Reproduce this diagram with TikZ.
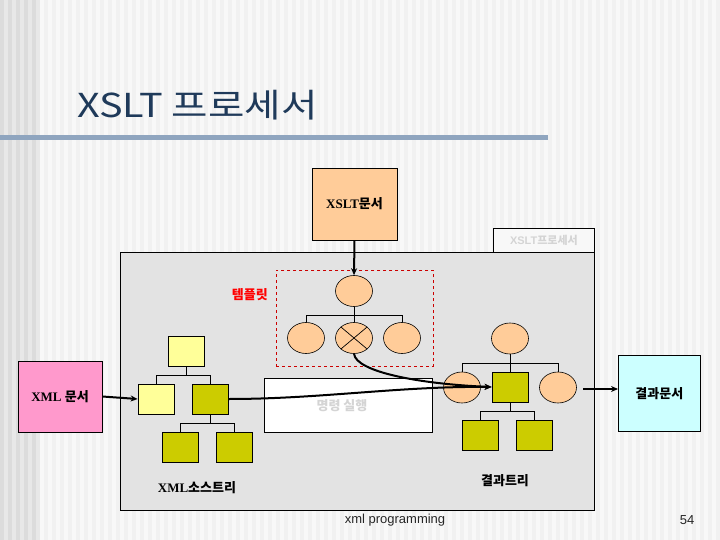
\documentclass[tikz,border=0pt]{standalone}
\usepackage{fontspec}
\setmainfont{Liberation Serif}
\setsansfont{Liberation Sans}
\newfontfamily\kr{Noto Sans CJK KR}
\usetikzlibrary{arrows.meta,shapes.geometric}
\definecolor{bgA}{HTML}{F1F1F1}
\definecolor{bgB}{HTML}{F8F8F8}
\definecolor{bgL}{HTML}{DCDCDC}
\definecolor{bgL2}{HTML}{E8E8E8}
\definecolor{titlec}{HTML}{1F3A5A}
\definecolor{barc}{HTML}{8FA5BF}
\definecolor{peach}{HTML}{FFCC99}
\definecolor{pale}{HTML}{FFFF99}
\definecolor{olive}{HTML}{CCCC00}
\definecolor{pinkc}{HTML}{FF99CC}
\definecolor{cyanc}{HTML}{CCFFFF}
\definecolor{panel}{HTML}{E3E3E3}
\definecolor{faint}{HTML}{D4D4D4}
\tikzset{
  sq/.style={draw=black,line width=0.8pt,minimum width=36pt,minimum height=30pt,inner sep=0pt},
  ov/.style={draw=black,line width=0.6pt,fill=peach,ellipse,minimum width=37pt,minimum height=31pt,inner sep=0pt},
  doc/.style={draw=black,line width=0.8pt,inner sep=0pt,font=\bfseries\fontsize{13}{15}\selectfont},
  link/.style={draw=black,line width=0.7pt},
  arr/.style={draw=black,line width=2pt,-{Stealth[length=7pt,width=6pt]}},
  lbl/.style={inner sep=0pt,font=\bfseries\fontsize{13}{15}\selectfont}
}
\begin{document}
\begin{tikzpicture}[x=1pt,y=-1pt]
\useasboundingbox (0,0) rectangle (720,540);
% background stripes
\fill[bgA] (0,0) rectangle (720,540);
\foreach \i in {0,...,89} { \fill[bgB] ({\i*8},0) rectangle ({\i*8+4},540); }
\foreach \i in {0,...,4} { \fill[bgL] ({\i*8},0) rectangle ({\i*8+4},540); \fill[bgL2] ({\i*8+4},0) rectangle ({\i*8+8},540); }
% title
\node[anchor=base west,inner sep=0pt,text=titlec,font=\kr\fontsize{33}{40}\selectfont,xscale=1.2,transform shape] (title) at (77,118) {XSLT 프로세서};
\fill[barc] (0,135) rectangle (548,140);
% processor label and panel
\node[draw=black,line width=0.8pt,fill=bgB,minimum width=101pt,minimum height=24pt,inner sep=0pt,anchor=north west,text=faint,font=\sffamily\bfseries\fontsize{11}{13}\selectfont] (plabel) at (493,228) {XSLT{\kr 프로세서}};
\node[draw=black,line width=0.8pt,fill=panel,minimum width=474pt,minimum height=258pt,inner sep=0pt,anchor=north west] (panelbox) at (120,252) {};
% XSLT document
\node[doc,fill=peach,minimum width=85pt,minimum height=72pt] (xsltdoc) at (354.5,204) {XSLT{\kr 문서}};
% template
\node[draw=red!80!black,dashed,line width=0.7pt,minimum width=157pt,minimum height=96pt,inner sep=0pt,anchor=north west] (tpl) at (276,270) {};
\node[lbl,text=red,font=\kr\bfseries\fontsize{13}{15}\selectfont,anchor=east] (tpllabel) at (268,295) {템플릿};
\node[ov] (e0) at (354,291) {};
\node[ov] (e1) at (306,338) {};
\node[ov] (e2) at (354,338) {};
\node[ov] (e3) at (402,338) {};
\draw[link] (e2.north west) -- (e2.south east) (e2.north east) -- (e2.south west);
\draw[link] (e0.south) -- (354,315) -| (e1.north);
\draw[link] (354,315) -- (e2.north);
\draw[link] (354,315) -| (e3.north);
\draw[arr] (xsltdoc.south) -- (e0.north);
% XML document
\node[doc,fill=pinkc,minimum width=84pt,minimum height=71pt] (xmldoc) at (60,396.5) {XML {\kr 문서}};
% source tree
\node[sq,fill=pale] (s0) at (186,351) {};
\node[sq,fill=pale] (s1) at (156,399) {};
\node[sq,fill=olive] (s2) at (210.5,399) {};
\node[sq,fill=olive] (s3) at (180,447) {};
\node[sq,fill=olive] (s4) at (234.5,447) {};
\draw[link] (s0.south) -- (186,375) -| (s1.north);
\draw[link] (186,375) -| (s2.north);
\draw[link] (s2.south) -- (210.5,423) -| (s3.north);
\draw[link] (210.5,423) -| (s4.north);
\draw[arr] (xmldoc.east) -- (s1.west);
\node[lbl] (srclabel) at (197,488) {XML{\kr 소스트리}};
% execution box
\node[draw=black,line width=0.8pt,fill=white,minimum width=168pt,minimum height=54pt,inner sep=0pt,anchor=north west] (exec) at (264,378) {};
\node[lbl,text=faint,font=\kr\bfseries\fontsize{13}{15}\selectfont] (execlabel) at (342,406) {명령 실행};
% result tree
\node[ov] (r0) at (510,338.5) {};
\node[ov] (r1) at (462,387.5) {};
\node[sq,fill=olive] (r2) at (510,387) {};
\node[ov] (r3) at (558,387.5) {};
\node[sq,fill=olive] (r4) at (480,435) {};
\node[sq,fill=olive] (r5) at (534,435) {};
\draw[link] (r0.south) -- (510,363) -| (r1.north);
\draw[link] (510,363) -| (r3.north);
\draw[link] (510,363) -- (r2.north);
\draw[link] (r2.south) -- (510,411) -| (r4.north);
\draw[link] (510,411) -| (r5.north);
\node[lbl] (reslabel) at (505,481) {\kr 결과트리};
% connectors into result
\draw[arr] (s2.east) .. controls (320,399) and (400,386) .. (r2.west);
\draw[arr] (e2.south) .. controls (356,372) and (420,384) .. (r2.west);
% result document
\node[doc,fill=cyanc,minimum width=82pt,minimum height=76pt,anchor=north west] (resdoc) at (618,355) {\kr 결과문서};
\coordinate (rs) at (583,389);
\draw[arr] (rs) -- (resdoc.west |- rs);
% footer
\node[inner sep=0pt,font=\sffamily\fontsize{13}{15}\selectfont,text=black!85] (footer) at (395,520) {xml programming};
\node[inner sep=0pt,font=\sffamily\fontsize{13}{15}\selectfont,text=black!85] (pnum) at (687,520) {54};
\end{tikzpicture}
\end{document}
